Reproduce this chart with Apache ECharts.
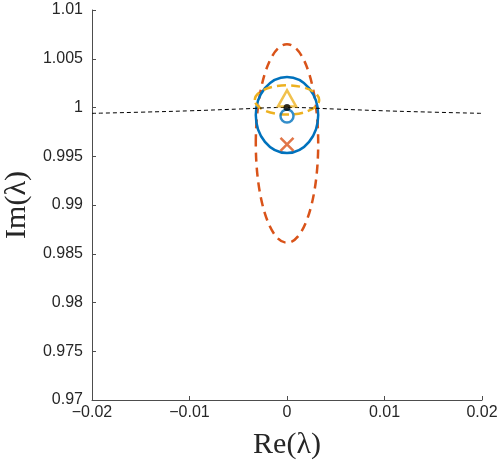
<!DOCTYPE html>
<html>
<head>
<meta charset="utf-8">
<script src="https://cdn.jsdelivr.net/npm/echarts@6/dist/echarts.min.js"></script>
<style>html,body{margin:0;padding:0;background:#fff;}#c{width:498px;height:465px;}</style>
</head>
<body>
<div id="c"></div>
<script>
// ---- data ----
var xTicks = [-0.02, -0.01, 0, 0.01, 0.02];
var yTicks = [0.97, 0.975, 0.98, 0.985, 0.99, 0.995, 1, 1.005, 1.01];
// reference curve (black dashed)
var curveX = [-0.02, -0.015, -0.01, -0.005, 0, 0.005, 0.01, 0.015, 0.02];
var curveY = [0.9994, 0.99952, 0.99966, 0.99984, 1.0, 0.99984, 0.99966, 0.99952, 0.9994];
// ellipses: [centerRe, centerIm, semiAxisRe, semiAxisIm]
var ellipseBlue = [0, 0.99923, 0.0032, 0.0039];
var ellipseRed = [0, 0.99631, 0.0032, 0.01018];
var ellipseYellow = [0, 1.00077, 0.0033, 0.0015];
// markers
var pointBlack = [0, 1.0];
var pointBlueCircle = [0, 0.99912];
var pointYellowTriangle = [0, 1.00094];
var pointRedCross = [0, 0.99622];

var BLUE = '#0072BD', RED = '#D95319', YELLOW = '#EDB120';
var FONT = 'Liberation Sans';

function ellipseSeries(d, color, dash, z) {
  return {
    type: 'custom',
    coordinateSystem: 'cartesian2d',
    data: [d],
    z: z,
    silent: true,
    renderItem: function (params, api) {
      var c = api.coord([api.value(0), api.value(1)]);
      var s = api.size([api.value(2), api.value(3)]);
      return {
        type: 'ellipse',
        shape: { cx: c[0], cy: c[1], rx: s[0], ry: s[1] },
        style: { fill: null, stroke: color, lineWidth: 2.5, lineDash: dash }
      };
    }
  };
}

var chart = echarts.init(document.getElementById('c'), null, { renderer: 'canvas' });
chart.setOption({
  animation: false,
  backgroundColor: '#ffffff',
  grid: { left: 92, right: 16, top: 10, bottom: 65, containLabel: false, outerBoundsMode: 'none' },
  xAxis: {
    type: 'value', min: xTicks[0], max: xTicks[xTicks.length - 1], interval: 0.01,
    name: 'Re(λ)', nameLocation: 'middle', nameGap: 30,
    nameTextStyle: { fontFamily: 'Liberation Serif', fontSize: 30, color: '#262626' },
    axisLine: { onZero: false, lineStyle: { color: '#4d4d4d', width: 1 } },
    axisTick: { inside: true, length: 4, lineStyle: { color: '#4d4d4d' } },
    axisLabel: { fontFamily: FONT, fontSize: 16, color: '#262626', margin: 5,
      formatter: function (v) { return String(Math.round(v * 1000) / 1000).replace('-', '\u2212'); } },
    splitLine: { show: false }
  },
  yAxis: {
    type: 'value', min: yTicks[0], max: yTicks[yTicks.length - 1], interval: 0.005,
    name: 'Im(λ)', nameLocation: 'middle', nameGap: 60, nameRotate: 90,
    nameTextStyle: { fontFamily: 'Liberation Serif', fontSize: 30, color: '#262626' },
    axisLine: { show: true, onZero: false, lineStyle: { color: '#4d4d4d', width: 1 } },
    axisTick: { show: true, inside: true, length: 4, lineStyle: { color: '#4d4d4d' } },
    axisLabel: { fontFamily: FONT, fontSize: 16, color: '#262626', margin: 9,
      formatter: function (v) { return String(Math.round(v * 10000) / 10000); } },
    splitLine: { show: false }
  },
  series: [
    ellipseSeries(ellipseRed, RED, [9, 6], 2),
    ellipseSeries(ellipseBlue, BLUE, null, 3),
    ellipseSeries(ellipseYellow, YELLOW, [9, 5], 4),
    {
      type: 'line', smooth: true, symbol: 'none', z: 5,
      data: curveX.map(function (x, i) { return [x, curveY[i]]; }),
      lineStyle: { color: '#000', width: 1, type: [4, 3] }
    },
    {
      type: 'scatter', z: 6, symbol: 'circle', symbolSize: 13,
      data: [pointBlueCircle],
      itemStyle: { color: 'rgba(0,0,0,0)', borderColor: BLUE, borderWidth: 2.5 }
    },
    {
      type: 'scatter', z: 6, symbol: 'triangle', symbolSize: [18, 16],
      data: [pointYellowTriangle],
      itemStyle: { color: 'rgba(0,0,0,0)', borderColor: YELLOW, borderWidth: 2.5 }
    },
    {
      type: 'scatter', z: 6, symbol: 'path://M0,0L10,10M10,0L0,10', symbolSize: 13,
      data: [pointRedCross],
      itemStyle: { color: 'rgba(0,0,0,0)', borderColor: RED, borderWidth: 2.5 }
    },
    {
      type: 'scatter', z: 7, symbol: 'circle', symbolSize: 7,
      data: [pointBlack],
      itemStyle: { color: '#000' }
    }
  ]
});
</script>
</body>
</html>
